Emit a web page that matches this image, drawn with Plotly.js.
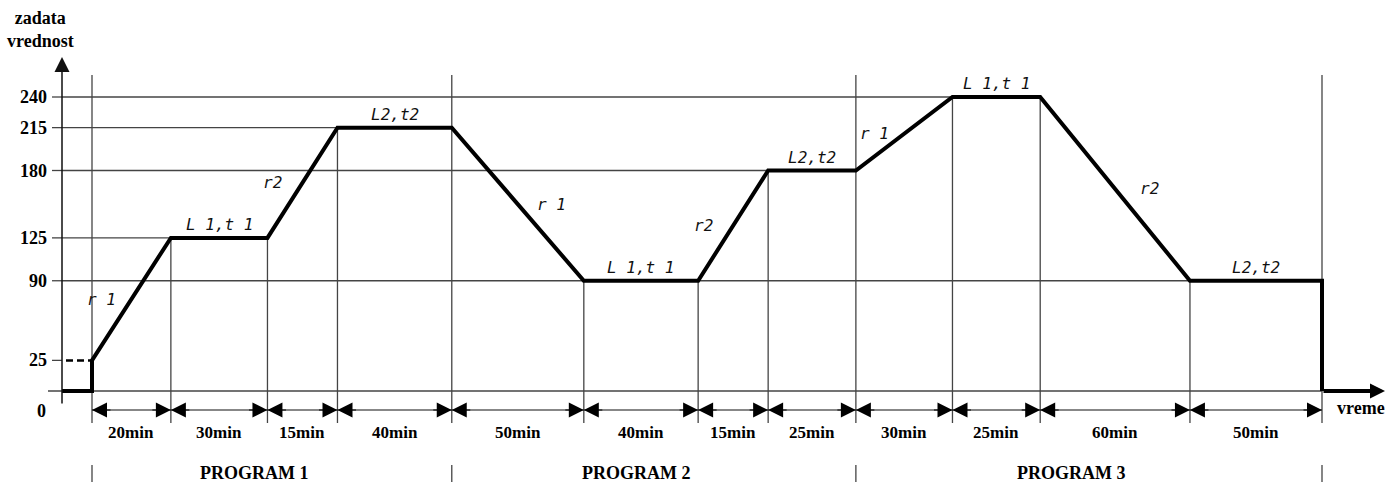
<!DOCTYPE html>
<html><head><meta charset="utf-8">
<script src="https://cdn.plot.ly/plotly-3.0.1.min.js"></script>
<style>html,body{margin:0;padding:0;background:#fff;}#chart{width:1399px;height:482px;}</style>
</head><body><div id="chart"></div>
<script>
// ---------------- data ----------------
const stepDurations = [20, 30, 15, 40, 50, 40, 15, 25, 30, 25, 60, 50];          // minutes
const stepNames     = ['r1','L1,t1','r2','L2,t2','r1','L1,t1','r2','L2,t2','r1','L1,t1','r2','L2,t2'];
const stepEndValues = [125, 125, 215, 215, 90, 90, 180, 180, 240, 240, 90, 90]; // setpoint at end of each step
const startValue    = 25;
const idleValue     = 0;
const programNames  = ['PROGRAM 1', 'PROGRAM 2', 'PROGRAM 3'];
const stepsPerProgram = [4, 4, 4];
const yTickValues   = [25, 90, 125, 180, 215, 240];
const yTickLabels   = ['25', '90', '125', '180', '215', '240'];
const zeroLabel     = '0';
const yTitle        = 'zadata<br>vrednost';
const xTitle        = 'vreme';
const durationUnit  = 'min';

// ---------------- layout constants ----------------
const W = 1399, H = 482;
const PX_START = 92, PX_END = 1322;     // program start / end on screen
const Y0_PX = 391, YMAX_PX = 97;        // value 0 and max tick on screen
const PAD = 24.5;                        // schematic spacing added to every step (diagram is not to time scale)
const THIN = '#444', THIN_W = 1.3;
const SERIF = 'Liberation Serif, Times New Roman, serif';
const SEG = 'DejaVu Sans Mono, monospace';

// schematic time positions of the step boundaries
const bounds = [0];
stepDurations.forEach(d => bounds.push(bounds[bounds.length - 1] + d + PAD));
const S = (PX_END - PX_START) / bounds[bounds.length - 1];
const ux = px => (px - PX_START) / S;
const SY = (Y0_PX - YMAX_PX) / Math.max(...yTickValues);
const vy = py => (Y0_PX - py) / SY;

const AXIS_X = ux(62);
const TICK_X = ux(52);
const levels = [startValue].concat(stepEndValues);   // value at each boundary
const lastB = bounds[bounds.length - 1];

// profile
const profX = [AXIS_X, 0].concat(bounds, [lastB]);
const profY = [idleValue, idleValue].concat(levels, [idleValue]);

const shapes = [];
const line = (x0, y0, x1, y1, extra) => shapes.push(Object.assign({
  type: 'line', xref: 'x', yref: 'y', x0, y0, x1, y1, layer: 'below',
  line: {color: THIN, width: THIN_W}
}, extra || {}));

const annotations = [];
const SERIF_B = {family: SERIF, size: 18, weight: 'bold', color: '#000'};

// baseline (value 0)
line(ux(48), idleValue, lastB, idleValue);
// tick marks, tick labels, horizontal reference lines up to last point at that level
yTickValues.forEach((v, k) => {
  line(TICK_X, v, AXIS_X, v);
  annotations.push({x: TICK_X, y: v, xref: 'x', yref: 'y', xanchor: 'right', yanchor: 'middle', xshift: -3,
    text: yTickLabels[k], showarrow: false, font: SERIF_B});
  let xe = null;
  levels.forEach((lv, i) => { if (lv === v) xe = bounds[i]; });
  if (v === startValue) {
    line(ux(66), v, 0, v, {line: {color: '#000', width: 2.5, dash: '7px,4px'}});
  } else if (xe !== null) {
    line(AXIS_X, v, xe, v);
  }
});
// program boundary indices
const progB = [0];
stepsPerProgram.forEach(n => progB.push(progB[progB.length - 1] + n));
// vertical lines
bounds.forEach((b, i) => {
  const top = progB.includes(i) ? vy(75) : levels[i];
  line(b, top, b, vy(423));
});
// program separators
progB.forEach(i => line(bounds[i], vy(465), bounds[i], vy(H + 5)));

const ARROW_Y = vy(410);
const HEAD = ux(20) - ux(0);  // short arrow length for heads
// continuous dimension line
line(bounds[0], ARROW_Y, lastB, ARROW_Y, {line: {color: '#111', width: 1.2}});
stepDurations.forEach((d, i) => {
  const a = bounds[i], b = bounds[i + 1], mid = (a + b) / 2;
  [[a, a + HEAD], [b, b - HEAD]].forEach(([tip, tail]) => annotations.push({
    x: tip, y: ARROW_Y, ax: tail, ay: ARROW_Y, xref: 'x', yref: 'y', axref: 'x', ayref: 'y',
    text: '', showarrow: true, arrowhead: 2, arrowsize: 3, arrowwidth: 1, arrowcolor: '#000', standoff: 0
  }));
  annotations.push({
    x: mid, y: vy(432), xref: 'x', yref: 'y', text: d + durationUnit, showarrow: false,
    font: {family: SERIF, size: 17, weight: 'bold', color: '#000'}
  });
  // step label
  const disp = stepNames[i].replace(/1/g, ' 1');
  const v0 = levels[i], v1 = levels[i + 1];
  if (v0 === v1) {
    annotations.push({x: mid, y: v1, xref: 'x', yref: 'y', text: disp, showarrow: false,
      yanchor: 'bottom', yshift: 2,
      font: {family: SEG, size: 16, style: 'italic', color: '#111'}});
  } else {
    annotations.push({x: mid, y: (v0 + v1) / 2, xref: 'x', yref: 'y', text: disp, showarrow: false,
      xshift: v1 > v0 ? -30 : 34,
      font: {family: SEG, size: 16, style: 'italic', color: '#111'}});
  }
});
programNames.forEach((p, k) => {
  annotations.push({x: (bounds[progB[k]] + bounds[progB[k + 1]]) / 2, y: vy(473), xref: 'x', yref: 'y',
    xshift: -18, text: p, showarrow: false, font: SERIF_B});
});
annotations.push({x: 40 / W, y: 1 - 29 / H, xref: 'paper', yref: 'paper', xanchor: 'center', yanchor: 'middle',
  text: yTitle, showarrow: false, font: SERIF_B});
annotations.push({x: TICK_X, y: idleValue, xref: 'x', yref: 'y', xanchor: 'right', xshift: -4, yshift: -20,
  text: zeroLabel, showarrow: false, font: SERIF_B});
annotations.push({x: ux(1361), y: vy(408), xref: 'x', yref: 'y', text: xTitle, showarrow: false, font: SERIF_B});
// y axis arrow
annotations.push({x: AXIS_X, y: vy(57), ax: AXIS_X, ay: vy(405), xref: 'x', yref: 'y', axref: 'x', ayref: 'y',
  text: '', showarrow: true, arrowhead: 2, arrowsize: 2, arrowwidth: 1.5, arrowcolor: '#111', standoff: 0});
// x axis arrow (continuation of profile)
annotations.push({x: ux(1385), y: idleValue, ax: lastB, ay: idleValue, xref: 'x', yref: 'y', axref: 'x', ayref: 'y',
  text: '', showarrow: true, arrowhead: 2, arrowsize: 0.75, arrowwidth: 4, arrowcolor: '#000', standoff: 0});

const data = [{
  x: profX, y: profY, type: 'scatter', mode: 'lines',
  line: {color: '#000', width: 4}, hoverinfo: 'skip', showlegend: false
}];

const layout = {
  width: W, height: H, margin: {l: 0, r: 0, t: 0, b: 0},
  paper_bgcolor: '#fff', plot_bgcolor: '#fff', showlegend: false,
  xaxis: {range: [ux(0), ux(W)], visible: false, fixedrange: true},
  yaxis: {range: [vy(H), vy(0)], visible: false, fixedrange: true},
  shapes, annotations
};
Plotly.newPlot('chart', data, layout, {staticPlot: true, displayModeBar: false});
</script></body></html>
